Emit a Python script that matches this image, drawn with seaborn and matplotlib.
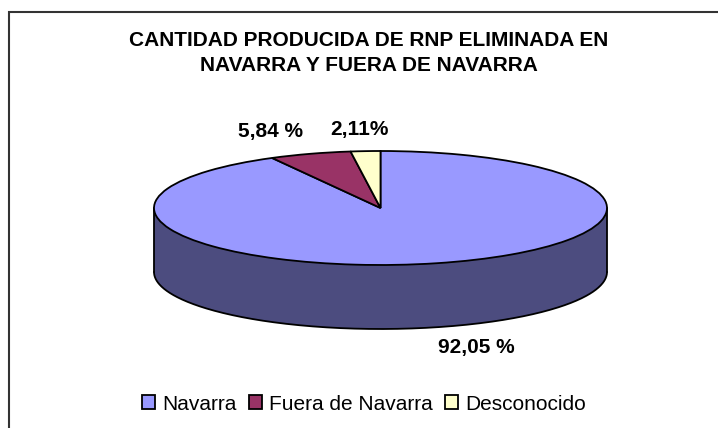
import numpy as np
import matplotlib
matplotlib.use("Agg")
import matplotlib.pyplot as plt
from matplotlib.patches import Patch, Rectangle
import seaborn as sns

sns.set_style("white")
plt.rcParams['font.family'] = ['Liberation Sans', 'DejaVu Sans']
plt.rcParams['text.color'] = 'black'

# datos
categorias = ["Navarra", "Fuera de Navarra", "Desconocido"]
porcentajes = [92.05, 5.84, 2.11]
etiquetas = ["92,05 %", "5,84 %", "2,11%"]
titulo = "CANTIDAD PRODUCIDA DE RNP ELIMINADA EN\nNAVARRA Y FUERA DE NAVARRA"

col_sup = ["#9999FF", "#993366", "#FFFFCC"]
col_lado = ["#4C4C7F", "#4C1933", "#7F7F66"]

W, H = 718, 428
fig = plt.figure(figsize=(W / 100, H / 100), dpi=100)
ax = fig.add_axes([0, 0, 1, 1])

# geometria del pastel (pixeles)
cx, cy = 380.5, 208
rx, ry = 226.5, 57
prof = 64 / ry
lw = 1.3

# top pie
wedges, _ = ax.pie(porcentajes, colors=col_sup, startangle=90, counterclock=False,
                   radius=1, center=(0, 0),
                   wedgeprops=dict(edgecolor="black", linewidth=lw, zorder=3))

# lateral: parte frontal de cada porcion
tot = sum(porcentajes)
ang = 90 - 360 * np.concatenate([[0], np.cumsum(porcentajes)]) / tot
for i in range(len(porcentajes)):
    t = np.radians(np.linspace(ang[i + 1], ang[i], 600))
    x, y = np.cos(t), np.sin(t)
    m = y <= 0
    if m.sum() < 2:
        continue
    xs, ys = x[m], y[m]
    px = np.concatenate([xs, xs[::-1]])
    py = np.concatenate([ys, ys[::-1] - prof])
    ax.fill(px, py, color=col_lado[i], lw=0, zorder=1)

tb = np.linspace(np.pi, 2 * np.pi, 400)
ax.plot(np.cos(tb), np.sin(tb) - prof, color="black", lw=lw, zorder=2)
ax.plot([-1, -1], [0, -prof], color="black", lw=lw, zorder=2)
ax.plot([1, 1], [0, -prof], color="black", lw=lw, zorder=2)

ax.set_aspect("auto")
ax.set_xlim(-cx / rx, (W - cx) / rx)
ax.set_ylim(-(H - cy) / ry, cy / ry)
ax.axis("off")

# etiquetas de porcentaje
pos_lab = [(476, 347), (270, 132), (359, 129)]
for txt, (px_, py_) in zip(etiquetas, pos_lab):
    fig.text(px_ / W, 1 - py_ / H, txt, fontsize=15, fontweight="bold",
             ha="center", va="center", color="black")

fig.text(369 / W, 1 - 53 / H, titulo, fontsize=15, fontweight="bold",
         ha="center", va="center", linespacing=1.35, color="black")

handles = [Patch(facecolor=c, edgecolor="black", linewidth=lw) for c in col_sup]
fig.legend(handles, categorias, loc="center", bbox_to_anchor=(364 / W, 1 - 404 / H),
           ncol=3, frameon=False, fontsize=15, handlelength=0.62, handleheight=0.62,
           handletextpad=0.34, columnspacing=0.58, borderpad=0, borderaxespad=0,
           labelcolor="black")

fig.add_artist(Rectangle((9 / W, -0.1), 1.2, 1.1 - 12 / H, transform=fig.transFigure,
                         fill=False, edgecolor="#333333", linewidth=1.5))

fig.savefig("out.png", dpi=100)
